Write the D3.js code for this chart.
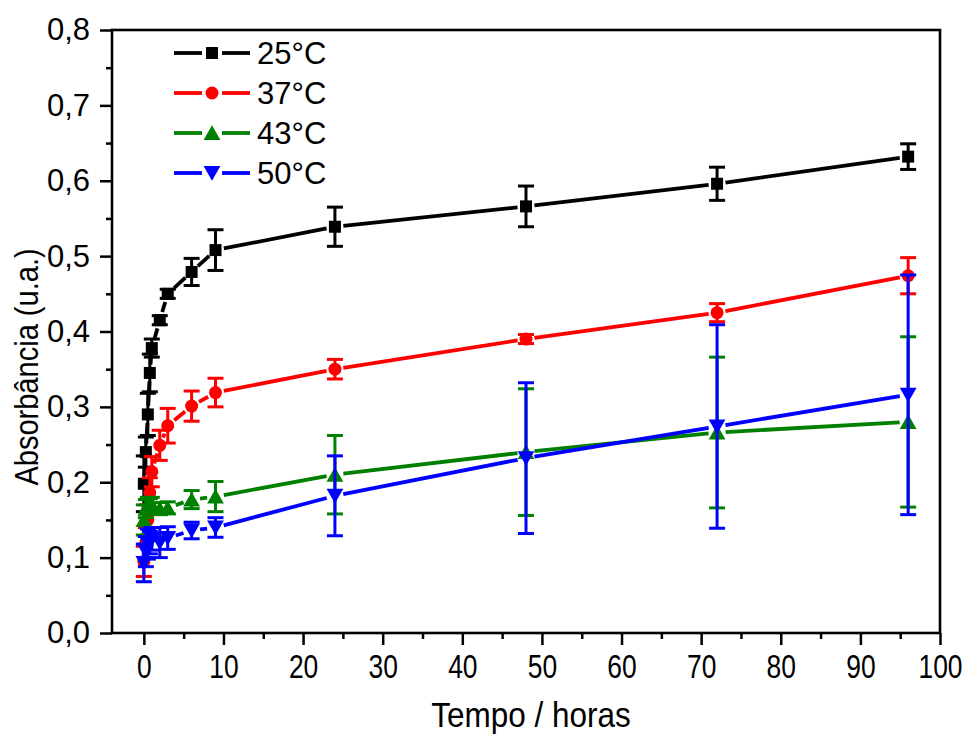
<!DOCTYPE html>
<html>
<head>
<meta charset="utf-8">
<script src="https://cdn.jsdelivr.net/npm/d3@7"></script>
<style>
  html, body { margin: 0; padding: 0; background: #fff; }
  svg { display: block; font-family: "Liberation Sans", Arial, sans-serif; }
</style>
</head>
<body>
<svg id="chart" width="967" height="736"></svg>
<script>
// Sampling times (hours)
const times = [0, 0.25, 0.5, 0.75, 1, 2, 3, 6, 9, 24, 48, 72, 96];

// Absorbance means and standard deviations per temperature
const abs25 = [0.198, 0.240, 0.290, 0.345, 0.378, 0.415, 0.450, 0.479, 0.508, 0.539, 0.566, 0.596, 0.632];
const err25 = [0.037, 0.020, 0.028, 0.025, 0.012, 0.006, 0.006, 0.018, 0.027, 0.026, 0.027, 0.022, 0.017];

const abs37 = [0.095, 0.120, 0.150, 0.186, 0.214, 0.249, 0.275, 0.301, 0.319, 0.350, 0.390, 0.425, 0.474];
const err37 = [0.020, 0.020, 0.020, 0.020, 0.020, 0.020, 0.023, 0.020, 0.019, 0.013, 0.006, 0.012, 0.024];

const abs43 = [0.150, 0.165, 0.170, 0.168, 0.170, 0.165, 0.166, 0.177, 0.181, 0.210, 0.240, 0.266, 0.280];
const err43 = [0.020, 0.012, 0.010, 0.010, 0.010, 0.008, 0.008, 0.012, 0.020, 0.052, 0.084, 0.100, 0.113];

const abs50 = [0.093, 0.108, 0.118, 0.120, 0.125, 0.120, 0.126, 0.136, 0.140, 0.182, 0.232, 0.274, 0.316];
const err50 = [0.025, 0.020, 0.020, 0.015, 0.015, 0.020, 0.015, 0.011, 0.013, 0.053, 0.100, 0.135, 0.159];

const seriesNames = ["25°C", "37°C", "43°C", "50°C"];
const seriesColors = ["#000000", "#ff0000", "#008000", "#0000ff"];
const seriesSymbols = ["square", "circle", "triangleUp", "triangleDown"];

const xTicks = [0, 10, 20, 30, 40, 50, 60, 70, 80, 90, 100];
const yTicks = [0, 0.1, 0.2, 0.3, 0.4, 0.5, 0.6, 0.7, 0.8];

const xTitle = "Tempo / horas";
const yTitle = "Absorbância (u.a.)";

const svg = d3.select("#chart");
const plot = { left: 112, right: 940, top: 30, bottom: 633 };

const x = d3.scaleLinear().domain([-4, 100]).range([plot.left, plot.right]);
const y = d3.scaleLinear().domain([0, 0.8]).range([plot.bottom, plot.top]);

const fmtY = v => d3.format(".1f")(v).replace(".", ",");

// Axes
const xAxis = d3.axisBottom(x).tickValues(xTicks).tickSize(12).tickPadding(10).tickFormat(d3.format("d"));
const yAxis = d3.axisLeft(y).tickValues(yTicks).tickSize(12).tickPadding(10).tickFormat(fmtY);
const xMinor = d3.axisBottom(x).tickValues(d3.range(5, 100, 10)).tickSize(6).tickFormat("");
const yMinor = d3.axisLeft(y).tickValues(d3.range(0.05, 0.8, 0.1)).tickSize(6).tickFormat("");

function styleAxis(g, size) {
  g.select(".domain").remove();
  g.selectAll(".tick line").attr("stroke", "#000").attr("stroke-width", 2.5);
  g.selectAll(".tick text").attr("fill", "#000").attr("font-size", size)
    .attr("font-family", "'Liberation Sans', Arial, sans-serif");
}

const gx = svg.append("g").attr("transform", `translate(0,${plot.bottom})`).call(xAxis).call(styleAxis, 33);
// narrow digits along the time axis
gx.selectAll(".tick text").attr("transform", "scale(0.8,1)");
svg.append("g").attr("transform", `translate(0,${plot.bottom})`).call(xMinor).call(styleAxis, 33);
svg.append("g").attr("transform", `translate(${plot.left},0)`).call(yAxis).call(styleAxis, 31);
svg.append("g").attr("transform", `translate(${plot.left},0)`).call(yMinor).call(styleAxis, 31);

// Frame
svg.append("rect")
  .attr("x", plot.left).attr("y", plot.top)
  .attr("width", plot.right - plot.left).attr("height", plot.bottom - plot.top)
  .attr("fill", "none").attr("stroke", "#000").attr("stroke-width", 2.6);

// Axis titles
svg.append("text")
  .attr("transform", `translate(${(x(0) + x(100)) / 2 - 11},727) scale(0.9,1)`)
  .attr("text-anchor", "middle").attr("font-size", 35).text(xTitle);
svg.append("text")
  .attr("transform", `translate(38,367) rotate(-90) scale(0.88,1)`)
  .attr("text-anchor", "middle").attr("font-size", 33).text(yTitle);

// Marker shapes
const symbolPath = {
  square: s => `M${-s/2},${-s/2}h${s}v${s}h${-s}Z`,
  circle: s => d3.symbol(d3.symbolCircle, Math.PI * (s/2) * (s/2))(),
  triangleUp: s => `M0,${-s*0.55}L${s*0.6},${s*0.5}L${-s*0.6},${s*0.5}Z`,
  triangleDown: s => `M0,${s*0.55}L${s*0.6},${-s*0.5}L${-s*0.6},${-s*0.5}Z`
};
const markerSize = { square: 12, circle: 13, triangleUp: 14, triangleDown: 14 };

// Line segment between two points, trimmed around each marker
function gapSegment(p0, p1, gap) {
  const dx = p1[0] - p0[0], dy = p1[1] - p0[1];
  const len = Math.hypot(dx, dy);
  if (len <= 2 * gap + 1) return null;
  const ux = dx / len, uy = dy / len;
  return [p0[0] + ux * gap, p0[1] + uy * gap, p1[0] - ux * gap, p1[1] - uy * gap];
}

const seriesData = [
  { vals: abs25, errs: err25 },
  { vals: abs37, errs: err37 },
  { vals: abs43, errs: err43 },
  { vals: abs50, errs: err50 }
];

const gap = 8.5;
const capHalf = 8;

seriesData.forEach((s, i) => {
  const color = seriesColors[i];
  const sym = seriesSymbols[i];
  const g = svg.append("g");
  const pts = times.map((t, k) => [x(t), y(s.vals[k])]);

  // connecting line
  for (let k = 0; k < pts.length - 1; k++) {
    const seg = gapSegment(pts[k], pts[k + 1], gap);
    if (!seg) continue;
    g.append("line")
      .attr("x1", seg[0]).attr("y1", seg[1]).attr("x2", seg[2]).attr("y2", seg[3])
      .attr("stroke", color).attr("stroke-width", 3.8).attr("stroke-linecap", "butt");
  }

  // error bars
  times.forEach((t, k) => {
    const cx = x(t);
    const yHi = y(s.vals[k] + s.errs[k]);
    const yLo = y(s.vals[k] - s.errs[k]);
    g.append("line").attr("x1", cx).attr("x2", cx).attr("y1", yHi).attr("y2", yLo)
      .attr("stroke", color).attr("stroke-width", 3);
    [yHi, yLo].forEach(yy => {
      g.append("line").attr("x1", cx - capHalf).attr("x2", cx + capHalf).attr("y1", yy).attr("y2", yy)
        .attr("stroke", color).attr("stroke-width", 3);
    });
  });

  // markers
  g.selectAll("path.m").data(times).join("path")
    .attr("class", "m")
    .attr("transform", (t, k) => `translate(${x(t)},${y(s.vals[k])})`)
    .attr("d", symbolPath[sym](markerSize[sym]))
    .attr("fill", color);
});

// Legend
const legendRows = [53, 93, 133, 173];
seriesNames.forEach((name, i) => {
  const g = svg.append("g").attr("transform", `translate(0,${legendRows[i]})`);
  const color = seriesColors[i];
  g.append("line").attr("x1", 174).attr("x2", 202).attr("y1", 0).attr("y2", 0)
    .attr("stroke", color).attr("stroke-width", 3.8);
  g.append("line").attr("x1", 222).attr("x2", 250).attr("y1", 0).attr("y2", 0)
    .attr("stroke", color).attr("stroke-width", 3.8);
  const sym = seriesSymbols[i];
  g.append("path").attr("transform", "translate(212,0)")
    .attr("d", symbolPath[sym](markerSize[sym]))
    .attr("fill", color);
  g.append("text").attr("x", 257).attr("y", 11).attr("font-size", 31).attr("fill", "#000").text(name);
});
</script>
</body>
</html>
